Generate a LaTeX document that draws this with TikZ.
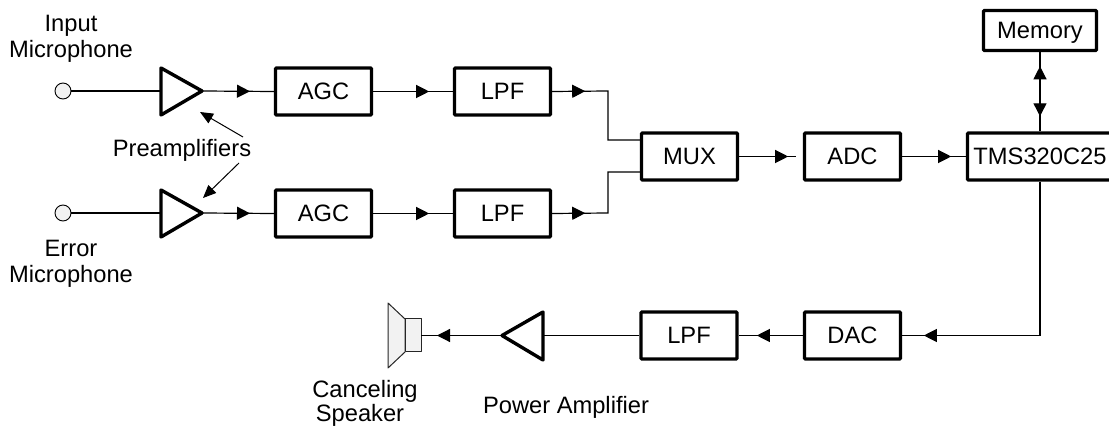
\documentclass[tikz,border=0pt]{standalone}
\usepackage{fontspec}
\setmainfont{Liberation Sans}
\usetikzlibrary{arrows.meta,decorations.markings,shapes.geometric}
\tikzset{
  x=1pt,y=-1pt,
  blockbox/.style={draw=black,line width=3.4pt,rounded corners=1pt,inner sep=0pt,
    minimum width=96pt,minimum height=47pt,text height=17pt,text depth=0pt,align=center,
    font=\fontsize{23.7}{26}\selectfont},
  lbl/.style={inner sep=0pt,anchor=base,font=\fontsize{23.7}{26}\selectfont},
  wire/.style={draw=black,line width=1.2pt},
  amp/.style={draw=black,line width=3.4pt,line join=round},
  jackcircle/.style={circle,draw=black,line width=0.9pt,fill=black!5,minimum size=16pt,inner sep=0pt},
  spk/.style={draw=black!85,line width=1pt,fill=black!5,line join=round},
  hd/.tip={Triangle[length=13pt,width=13pt]},
  midhead/.style={postaction={decorate,decoration={markings,mark=at position #1pt with {\arrow{hd}}}}},
  midback/.style={postaction={decorate,decoration={markings,mark=at position #1pt with {\arrowreversed{hd}}}}},
}
\begin{document}
\begin{tikzpicture}
\useasboundingbox (0,0) rectangle (1109,427);
\clip (0,0) rectangle (1109,427);
\fill[white] (0,0) rectangle (1109,427);

% blocks
\node[blockbox] (agc1) at (323.5,91.5) {AGC};
\node[blockbox] (lpf1) at (502.5,91.5) {LPF};
\node[blockbox] (agc2) at (323.5,213.5) {AGC};
\node[blockbox] (lpf2) at (502.5,213.5) {LPF};
\node[blockbox] (mux) at (689.5,156.5) {MUX};
\node[blockbox] (adc) at (852.5,156.5) {ADC};
\node[blockbox,minimum width=145pt] (dsp) at (1040,156.5) {TMS320C25};
\node[blockbox,minimum width=113pt,minimum height=40pt] (mem) at (1040,30.5) {Memory};
\node[blockbox] (dac) at (852.5,335.5) {DAC};
\node[blockbox] (lpf3) at (689,335.5) {LPF};

% jacks
\node[jackcircle] (in1) at (63,91) {};
\node[jackcircle] (in2) at (63,213) {};

% amplifiers
\coordinate (a1in) at (161,91);  \coordinate (a1out) at (202,91);
\coordinate (a2in) at (161,213); \coordinate (a2out) at (202,213);
\coordinate (pain) at (544,335.5); \coordinate (paout) at (502,335.5);
\draw[amp] (161,68) -- (a1out) -- (161,115) -- cycle;
\draw[amp] (161,190) -- (a2out) -- (161,237) -- cycle;
\draw[amp] (543,312) -- (paout) -- (543,360) -- cycle;

% speaker
\coordinate (spkin) at (421,335.5);
\draw[spk] (405,319) -- (388,303) -- (388,368) -- (405,352) -- cycle;
\draw[spk] (405,319) rectangle (421,352);

% microphone inputs
\draw[wire] (in1) -- (a1in);
\draw[wire] (in2) -- (a2in);

% forward path
\draw[wire,midhead=48] (a1out) -- (agc1.west);
\draw[wire,midhead=48] (a2out) -- (agc2.west);
\draw[wire,midhead=56] (agc1.east) -- (lpf1.west);
\draw[wire,midhead=56] (agc2.east) -- (lpf2.west);
\coordinate (m1) at (608,140); \coordinate (m2) at (608,172);
\draw[wire,midhead=33] (lpf1.east) -- (608,91) -- (m1) -- (mux.west |- m1);
\draw[wire,midhead=33] (lpf2.east) -- (608,213) -- (m2) -- (mux.west |- m2);
\coordinate (muxend) at (796,156.5);
\draw[wire,midhead=49] (mux.east) -- (muxend);
\draw[wire,midhead=49] (adc.east) -- (dsp.west);
\draw[wire,midback=15,midhead=65] (dsp.north) -- (mem.south);
% return path
\draw[wire,midhead=270] (dsp.south) -- (1040,335.5) -- (dac.east);
\draw[wire,midhead=46] (dac.west) -- (lpf3.east);
\draw[wire] (lpf3.west) -- (pain);
\draw[wire,midhead=65] (paout) -- (spkin);

% labels
\node[lbl] (t1) at (71,32) {Input};
\node[lbl] (t2) at (71,57.5) {Microphone};
\node[lbl] (t3) at (71,257) {Error};
\node[lbl] (t4) at (71,283) {Microphone};
\node[lbl] (t5) at (182,157) {Preamplifiers};
\node[lbl] (t6) at (365,397.5) {Canceling};
\node[lbl] (t7) at (360,421.5) {Speaker};
\node[lbl] (t8) at (566,414) {Power Amplifier};

% pointers
\coordinate (p1s) at (243,137); \coordinate (p1e) at (200,112);
\coordinate (p2s) at (239,163); \coordinate (p2e) at (203,198);
\draw[line width=1pt,-{Triangle[length=13pt,width=11pt]}] (p1s) -- (p1e);
\draw[line width=1pt,-{Triangle[length=13pt,width=11pt]}] (p2s) -- (p2e);
\end{tikzpicture}
\end{document}
